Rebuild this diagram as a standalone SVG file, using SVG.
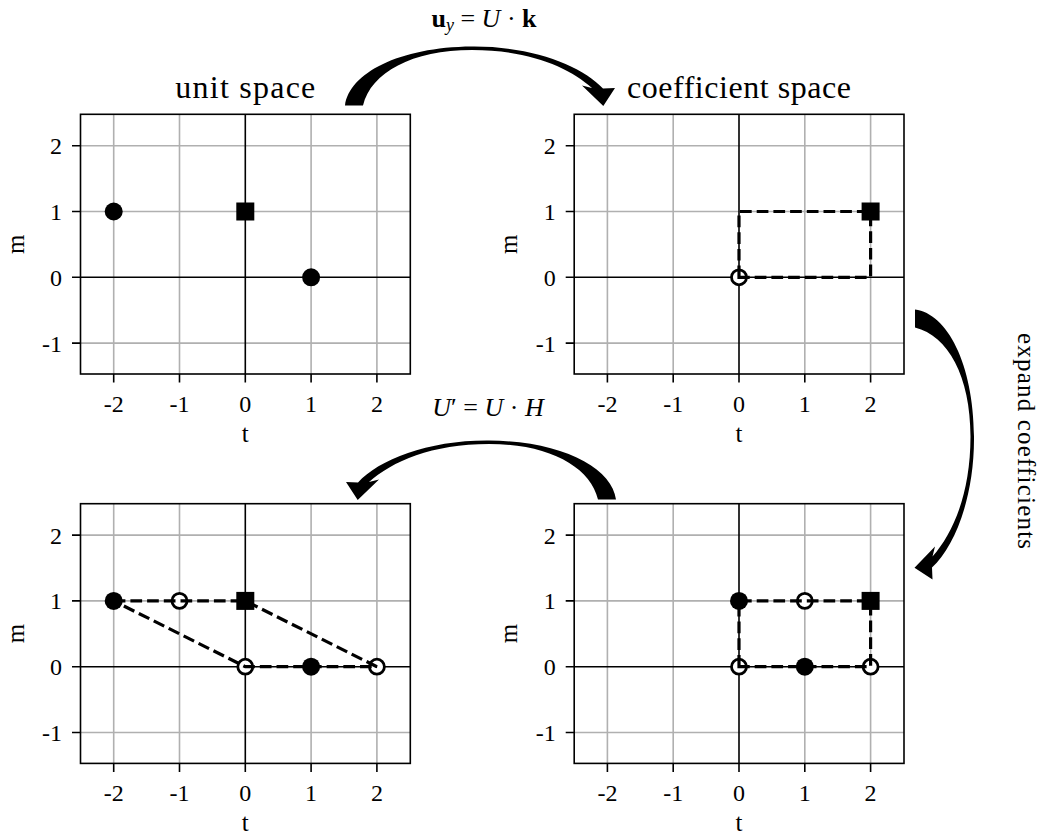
<svg xmlns="http://www.w3.org/2000/svg" width="1044" height="837" viewBox="0 0 1044 837">
<style>
.bg{fill:#fff}
.frame{fill:none;stroke:#000;stroke-width:1.6}
.grid{fill:none;stroke:#b0b0b0;stroke-width:1.6}
.zero{fill:none;stroke:#000;stroke-width:1.6}
.tick{fill:none;stroke:#000;stroke-width:1.6}
text{font-family:"Liberation Serif","DejaVu Serif",serif;fill:#000}
.xt{font-size:24px;text-anchor:middle}
.yt{font-size:24px;text-anchor:end}
.lab{font-size:25px;text-anchor:middle}
.title{font-size:32px;text-anchor:middle}
.eq{font-size:26px}
.dash{fill:none;stroke:#000;stroke-width:3.2;stroke-dasharray:11.7 5}
.fc{fill:#000}
.oc{fill:#fff;stroke:#000;stroke-width:2.8}
.arrow{fill:#000}
</style>
<defs>
<path id="arrowShape" d="M-9 0C-5 -32 45 -58.5 118 -59C178 -59.5 228 -40 249 -17L261 -17.5L249.3 0.5L228 -20L238 -17.5C215 -38 175 -55.5 118 -55.5C58 -55.5 17 -33 9 0Z"/>
</defs>
<rect class="bg" x="0" y="0" width="1044" height="837"/>

<g id="plot-unit-space">
<path class="grid" d="M113.7 114.3V374M179.5 114.3V374M311.1 114.3V374M376.9 114.3V374M80.5 145.7H410.3M80.5 211.5H410.3M80.5 343.1H410.3"/>
<path class="zero" d="M245.3 114.3V374M80.5 277.3H410.3"/>
<rect class="frame" x="80.5" y="114.3" width="329.8" height="259.7"/>
<path class="tick" d="M113.7 374v8.5M179.5 374v8.5M245.3 374v8.5M311.1 374v8.5M376.9 374v8.5M80.5 145.7h-8.5M80.5 211.5h-8.5M80.5 277.3h-8.5M80.5 343.1h-8.5"/>
<text class="xt" x="113.7" y="412">-2</text><text class="xt" x="179.5" y="412">-1</text><text class="xt" x="245.3" y="412">0</text><text class="xt" x="311.1" y="412">1</text><text class="xt" x="376.9" y="412">2</text>
<text class="yt" x="62" y="154.2">2</text><text class="yt" x="62" y="220">1</text><text class="yt" x="62" y="285.8">0</text><text class="yt" x="62" y="351.6">-1</text>
<text class="lab" x="245.3" y="442">t</text>
<text class="lab" transform="translate(23.5,244.2) rotate(-90)">m</text>
<text class="title" x="245.3" y="98" textLength="140" lengthAdjust="spacing">unit space</text>
<circle class="fc" cx="113.7" cy="211.5" r="9"/>
<circle class="fc" cx="311.1" cy="277.3" r="9"/>
<rect class="fc" x="236.3" y="202.5" width="18" height="18"/>
</g>

<g id="plot-coefficient-space" transform="translate(493.7,0)">
<path class="grid" d="M113.7 114.3V374M179.5 114.3V374M311.1 114.3V374M376.9 114.3V374M80.5 145.7H410.3M80.5 211.5H410.3M80.5 343.1H410.3"/>
<path class="zero" d="M245.3 114.3V374M80.5 277.3H410.3"/>
<rect class="frame" x="80.5" y="114.3" width="329.8" height="259.7"/>
<path class="tick" d="M113.7 374v8.5M179.5 374v8.5M245.3 374v8.5M311.1 374v8.5M376.9 374v8.5M80.5 145.7h-8.5M80.5 211.5h-8.5M80.5 277.3h-8.5M80.5 343.1h-8.5"/>
<text class="xt" x="113.7" y="412">-2</text><text class="xt" x="179.5" y="412">-1</text><text class="xt" x="245.3" y="412">0</text><text class="xt" x="311.1" y="412">1</text><text class="xt" x="376.9" y="412">2</text>
<text class="yt" x="62" y="154.2">2</text><text class="yt" x="62" y="220">1</text><text class="yt" x="62" y="285.8">0</text><text class="yt" x="62" y="351.6">-1</text>
<text class="lab" x="245.3" y="442">t</text>
<text class="lab" transform="translate(23.5,244.2) rotate(-90)">m</text>
<text class="title" x="245.3" y="98" textLength="224" lengthAdjust="spacing">coefficient space</text>
<rect class="fc" x="367.9" y="202.5" width="18" height="18"/>
<circle class="oc" cx="245.3" cy="277.3" r="7.5"/>
<path class="dash" d="M245.3 277.3V211.5H376.9V277.3Z"/>
</g>

<g id="plot-expanded" transform="translate(493.7,389.4)">
<path class="grid" d="M113.7 114.3V374M179.5 114.3V374M311.1 114.3V374M376.9 114.3V374M80.5 145.7H410.3M80.5 211.5H410.3M80.5 343.1H410.3"/>
<path class="zero" d="M245.3 114.3V374M80.5 277.3H410.3"/>
<rect class="frame" x="80.5" y="114.3" width="329.8" height="259.7"/>
<path class="tick" d="M113.7 374v8.5M179.5 374v8.5M245.3 374v8.5M311.1 374v8.5M376.9 374v8.5M80.5 145.7h-8.5M80.5 211.5h-8.5M80.5 277.3h-8.5M80.5 343.1h-8.5"/>
<text class="xt" x="113.7" y="412">-2</text><text class="xt" x="179.5" y="412">-1</text><text class="xt" x="245.3" y="412">0</text><text class="xt" x="311.1" y="412">1</text><text class="xt" x="376.9" y="412">2</text>
<text class="yt" x="62" y="154.2">2</text><text class="yt" x="62" y="220">1</text><text class="yt" x="62" y="285.8">0</text><text class="yt" x="62" y="351.6">-1</text>
<text class="lab" x="245.3" y="442">t</text>
<text class="lab" transform="translate(23.5,244.2) rotate(-90)">m</text>
<circle class="fc" cx="245.3" cy="211.5" r="9"/>
<circle class="fc" cx="311.1" cy="277.3" r="9"/>
<circle class="oc" cx="311.1" cy="211.5" r="7.5"/>
<circle class="oc" cx="245.3" cy="277.3" r="7.5"/>
<circle class="oc" cx="376.9" cy="277.3" r="7.5"/>
<rect class="fc" x="367.9" y="202.5" width="18" height="18"/>
<path class="dash" d="M245.3 277.3V211.5H376.9V277.3Z"/>
</g>

<g id="plot-transformed" transform="translate(0,389.4)">
<path class="grid" d="M113.7 114.3V374M179.5 114.3V374M311.1 114.3V374M376.9 114.3V374M80.5 145.7H410.3M80.5 211.5H410.3M80.5 343.1H410.3"/>
<path class="zero" d="M245.3 114.3V374M80.5 277.3H410.3"/>
<rect class="frame" x="80.5" y="114.3" width="329.8" height="259.7"/>
<path class="tick" d="M113.7 374v8.5M179.5 374v8.5M245.3 374v8.5M311.1 374v8.5M376.9 374v8.5M80.5 145.7h-8.5M80.5 211.5h-8.5M80.5 277.3h-8.5M80.5 343.1h-8.5"/>
<text class="xt" x="113.7" y="412">-2</text><text class="xt" x="179.5" y="412">-1</text><text class="xt" x="245.3" y="412">0</text><text class="xt" x="311.1" y="412">1</text><text class="xt" x="376.9" y="412">2</text>
<text class="yt" x="62" y="154.2">2</text><text class="yt" x="62" y="220">1</text><text class="yt" x="62" y="285.8">0</text><text class="yt" x="62" y="351.6">-1</text>
<text class="lab" x="245.3" y="442">t</text>
<text class="lab" transform="translate(23.5,244.2) rotate(-90)">m</text>
<circle class="fc" cx="113.7" cy="211.5" r="9"/>
<circle class="fc" cx="311.1" cy="277.3" r="9"/>
<circle class="oc" cx="179.5" cy="211.5" r="7.5"/>
<circle class="oc" cx="245.3" cy="277.3" r="7.5"/>
<circle class="oc" cx="376.9" cy="277.3" r="7.5"/>
<rect class="fc" x="236.3" y="202.5" width="18" height="18"/>
<path class="dash" d="M113.7 211.5H245.3L376.9 277.3H245.3Z"/>
</g>

<g id="connectors">
<use href="#arrowShape" class="arrow" transform="translate(354,105.5)"/>
<use href="#arrowShape" class="arrow" transform="translate(915,318.5) rotate(90)"/>
<use href="#arrowShape" class="arrow" transform="translate(607,499.5) scale(-1,1)"/>
</g>

<g id="labels">
<text class="eq" x="484" y="27" text-anchor="middle"><tspan font-weight="bold">u</tspan><tspan font-style="italic" font-size="18" dy="4">y</tspan><tspan dy="-4"> = </tspan><tspan font-style="italic">U</tspan><tspan> · </tspan><tspan font-weight="bold">k</tspan></text>
<text class="eq" x="488" y="416" text-anchor="middle"><tspan font-style="italic">U</tspan><tspan>′ = </tspan><tspan font-style="italic">U</tspan><tspan> · </tspan><tspan font-style="italic">H</tspan></text>
<text class="lab" font-size="27" transform="translate(1018,441) rotate(90)" textLength="216" lengthAdjust="spacing">expand coefficients</text>
</g>
</svg>
